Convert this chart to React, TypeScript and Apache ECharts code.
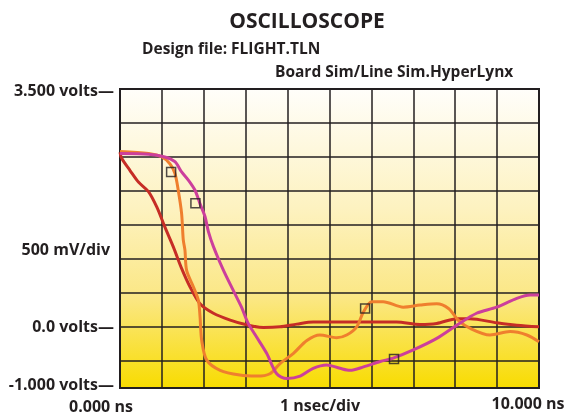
import React, { useEffect, useRef } from 'react';
import * as echarts from 'echarts';

const titleText = 'OSCILLOSCOPE';
const subtitleDesign = 'Design file: FLIGHT.TLN';
const subtitleTool = 'Board Sim/Line Sim.HyperLynx';
const yAxisLabels = ['3.500 volts—', '500 mV/div', '0.0 volts—', '-1.000 volts—'];
const xAxisLabels = ['0.000 ns', '1 nsec/div', '10.000 ns'];
const yGridValues = [-0.9, -0.5, 0, 0.5, 1, 1.5, 2, 2.5, 3, 3.5];

// [time ns, volts]
const redTrace = [
  [0, 2.57], [0.04, 2.48], [0.24, 2.3], [0.44, 2.13], [0.68, 1.99], [0.88, 1.76],
  [1.07, 1.47], [1.27, 1.18], [1.47, 0.86], [1.67, 0.59], [1.91, 0.34], [2.23, 0.2],
  [2.63, 0.1], [3.02, 0.03], [3.42, -0.01], [3.82, 0.0], [4.22, 0.04], [4.61, 0.07],
  [5.49, 0.07], [6.6, 0.07], [7.16, 0.035], [7.56, 0.05], [8.04, 0.12], [8.35, 0.12],
  [8.99, 0.06], [9.47, 0.025], [10, 0.0],
];
const orangeTrace = [
  [0, 2.58], [0.68, 2.55], [1.0, 2.5], [1.19, 2.4], [1.31, 2.26], [1.39, 2.01],
  [1.47, 1.67], [1.51, 1.28], [1.55, 1.13], [1.59, 0.83], [1.75, 0.59], [1.87, 0.39],
  [1.91, 0.15], [1.95, -0.2], [2.07, -0.49], [2.39, -0.64], [2.86, -0.71], [3.26, -0.725],
  [3.58, -0.69], [3.82, -0.54], [4.14, -0.39], [4.46, -0.2], [4.77, -0.12], [5.17, -0.16],
  [5.41, -0.12], [5.65, 0.0], [5.81, 0.22], [6.01, 0.37], [6.28, 0.37], [6.76, 0.29],
  [7.16, 0.32], [7.56, 0.34], [7.84, 0.27], [8.07, 0.1], [8.35, -0.02], [8.83, -0.12],
  [9.31, -0.07], [9.71, -0.12], [10, -0.22],
];
const magentaTrace = [
  [0, 2.55], [0.68, 2.54], [1.07, 2.5], [1.31, 2.43], [1.47, 2.28], [1.63, 2.16],
  [1.79, 2.01], [1.91, 1.81], [2.03, 1.62], [2.11, 1.4], [2.23, 1.18], [2.47, 0.83],
  [2.7, 0.54], [2.9, 0.29], [3.06, 0.05], [3.26, -0.15], [3.5, -0.39], [3.74, -0.69],
  [3.98, -0.76], [4.3, -0.725], [4.61, -0.61], [4.93, -0.56], [5.25, -0.61], [5.49, -0.64],
  [5.81, -0.59], [6.21, -0.51], [6.52, -0.46], [7.0, -0.34], [7.56, -0.17], [8.04, 0.025],
  [8.51, 0.2], [8.99, 0.29], [9.47, 0.42], [9.79, 0.47], [10, 0.47],
];
const probeMarkers = [
  [1.22, 2.28], [1.8, 1.82], [5.85, 0.27], [6.54, -0.475],
];

const INK = '#231f20';
const FONT = "'Open Sans', 'Noto Sans', sans-serif";

export default function App() {
  const ref = useRef<HTMLDivElement>(null);
  useEffect(() => {
    if (!ref.current) return;
    const chart = echarts.init(ref.current, undefined, { renderer: 'svg' });
    const lineSeries = (data: number[][], color: string, z: number) => ({
      type: 'line',
      data,
      showSymbol: false,
      smooth: 0.3,
      lineStyle: { color, width: 3 },
      z,
    });
    const txt = (text: string, x: number, y: number, size: number, align: string) => ({
      type: 'text',
      x,
      y,
      style: {
        text,
        font: `bold ${size}px ${FONT}`,
        fill: INK,
        align,
        verticalAlign: 'middle',
      },
    });
    chart.setOption({
      animation: false,
      grid: {
        left: 120,
        right: 31,
        top: 89,
        bottom: 29,
        show: true,
        backgroundColor: new echarts.graphic.LinearGradient(0, 0, 0, 1, [
          { offset: 0, color: '#fffefa' },
          { offset: 0.4, color: '#fdf2c0' },
          { offset: 0.7, color: '#fbe784' },
          { offset: 1, color: '#f8dc00' },
        ]),
        borderColor: INK,
        borderWidth: 2,
      },
      xAxis: {
        type: 'value',
        min: 0,
        max: 10,
        interval: 1,
        axisLine: { show: false },
        axisTick: { show: false },
        axisLabel: { show: false },
        splitLine: { show: true, lineStyle: { color: INK, width: 1.5 } },
      },
      yAxis: {
        type: 'value',
        min: -0.9,
        max: 3.5,
        axisLine: { show: false },
        axisTick: { show: false, customValues: yGridValues },
        axisLabel: { show: false },
        splitLine: { show: true, lineStyle: { color: INK, width: 1.5 } },
      },
      series: [
        lineSeries(redTrace, '#c62d26', 3),
        lineSeries(orangeTrace, '#ef7f2e', 4),
        lineSeries(magentaTrace, '#cc3f9c', 5),
        {
          type: 'scatter',
          data: probeMarkers,
          symbol: 'rect',
          symbolSize: 9,
          itemStyle: { color: 'rgba(0,0,0,0)', borderColor: INK, borderWidth: 1.5 },
          z: 6,
        },
      ],
      graphic: [
        txt(titleText, 307, 20, 21, 'center'),
        txt(subtitleDesign, 142, 48, 15.5, 'left'),
        txt(subtitleTool, 275, 71, 15.5, 'left'),
        txt(yAxisLabels[0], 114, 90, 16, 'right'),
        txt(yAxisLabels[1], 110, 249, 16, 'right'),
        txt(yAxisLabels[2], 114, 326, 16, 'right'),
        txt(yAxisLabels[3], 114, 384, 16, 'right'),
        txt(xAxisLabels[0], 101, 406, 16, 'center'),
        txt(xAxisLabels[1], 320, 405, 16, 'center'),
        txt(xAxisLabels[2], 528, 403, 16, 'center'),
      ],
    });
    return () => chart.dispose();
  }, []);
  return <div ref={ref} style={{ width: 570, height: 417, position: 'fixed', left: 0, top: 0 }} />;
}
